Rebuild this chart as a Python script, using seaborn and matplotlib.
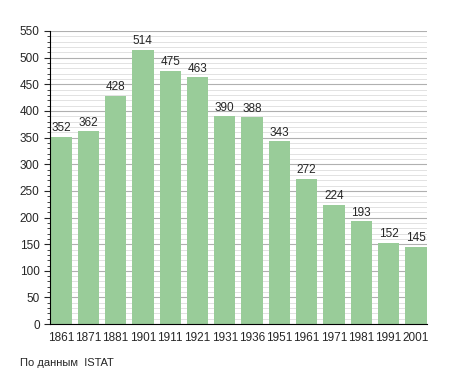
import numpy as np
import pandas as pd
import matplotlib
matplotlib.use('Agg')
import matplotlib.pyplot as plt
import seaborn as sns
from matplotlib.ticker import MultipleLocator

sns.set_style('white')
plt.rcParams['font.family'] = ['Liberation Sans', 'DejaVu Sans']

years = ['1861', '1871', '1881', '1901', '1911', '1921', '1931', '1936',
         '1951', '1961', '1971', '1981', '1991', '2001']
population = [352, 362, 428, 514, 475, 463, 390, 388, 343, 272, 224, 193, 152, 145]

df = pd.DataFrame({'year': years, 'pop': population})

fig = plt.figure(figsize=(4.55, 3.73), dpi=100)
ax = fig.add_axes([0.11, 0.131, 0.828, 0.786])

ax.yaxis.set_major_locator(MultipleLocator(50))
ax.yaxis.set_minor_locator(MultipleLocator(10))
ax.grid(which='major', axis='y', color='#b0b0b0', lw=0.8)
ax.grid(which='minor', axis='y', color='#dddddd', lw=0.6)
ax.set_axisbelow(True)

bw = 0.78
sns.barplot(data=df, x='year', y='pop', color='#99cc99', saturation=1,
            width=bw, linewidth=0, ax=ax)

for i, v in enumerate(population):
    ax.text(i, v + 5, str(v), ha='center', va='bottom', fontsize=8.5)

ax.set_ylim(0, 550)
ax.set_xlim(-bw / 2 - 0.01, len(years) - 1 + bw / 2 + 0.01)
ax.set_xlabel('')
ax.set_ylabel('')
for s in ['top', 'right']:
    ax.spines[s].set_visible(False)
ax.spines['left'].set_color('black')
ax.spines['bottom'].set_color('black')
ax.tick_params(axis='y', which='major', left=True, length=4, labelsize=8.5)
ax.tick_params(axis='y', which='minor', left=True, length=2)
ax.tick_params(axis='x', bottom=False, labelsize=8.5, pad=2)

fig.text(0.044, 0.02, 'По данным  ISTAT', fontsize=8)

fig.savefig('out.png', dpi=100)
